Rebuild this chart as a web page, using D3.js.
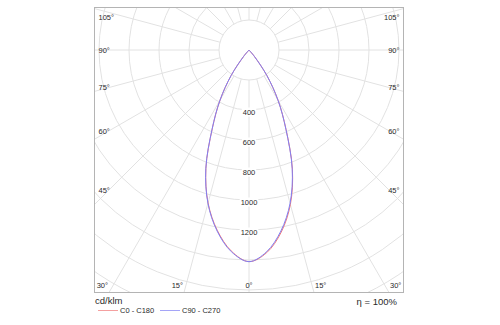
<!DOCTYPE html>
<html>
<head>
<meta charset="utf-8">
<script src="https://cdn.jsdelivr.net/npm/d3@7"></script>
<style>
  html, body { margin: 0; padding: 0; background: #fff; }
  text { font-family: "Liberation Sans", Arial, sans-serif; fill: #2a2a2a; }
</style>
</head>
<body>
<svg id="chart" width="500" height="325"></svg>
<script>
// ---- data ----
const gammaAngles = [0, 5, 10, 15, 20, 25, 30, 35, 40, 45, 50, 55, 60, 65, 70, 75, 80, 85, 90];
const c0   = [1411, 1356, 1234, 1066, 846, 584, 388, 208, 55, 0, 0, 0, 0, 0, 0, 0, 0, 0, 0];
const c180 = [1411, 1346, 1220, 1055, 840, 580, 386, 208, 55, 0, 0, 0, 0, 0, 0, 0, 0, 0, 0];
const c90  = [1411, 1350, 1225, 1058, 842, 582, 387, 208, 55, 0, 0, 0, 0, 0, 0, 0, 0, 0, 0];
const c270 = [1411, 1350, 1225, 1058, 842, 582, 387, 208, 55, 0, 0, 0, 0, 0, 0, 0, 0, 0, 0];
const gridValues = [200, 400, 600, 800, 1000, 1200, 1400, 1600, 1800, 2000];
const valueLabels = [400, 600, 800, 1000, 1200];
const spokeAngles = d3.range(0, 360, 15);
const angleLabels = [0, 15, 30, 45, 60, 75, 90, 105];
const seriesNames = ["C0 - C180", "C90 - C270"];
const unitLabel = "cd/klm";
const efficiencyLabel = "η = 100%";

// ---- layout ----
const frame = { x: 94.5, y: 7.5, w: 309, h: 285 };
const cx = 249, cy = 50;
const r = d3.scaleLinear().domain([0, 2000]).range([0, 300]);
const colors = ["#f07878", "#8080f4"];
const gridColor = "#e2e2e2";

const svg = d3.select("#chart");
svg.append("defs").append("clipPath").attr("id", "clip")
  .append("rect").attr("x", frame.x).attr("y", frame.y).attr("width", frame.w).attr("height", frame.h);

const g = svg.append("g").attr("clip-path", "url(#clip)");
const center = g.append("g").attr("transform", `translate(${cx},${cy})`);

// circles
center.selectAll("circle.grid").data(gridValues).enter().append("circle")
  .attr("class", "grid").attr("r", d => r(d))
  .attr("fill", "none").attr("stroke", gridColor).attr("stroke-width", 1);

// spokes (angle measured from straight down)
center.selectAll("line.spoke").data(spokeAngles).enter().append("line")
  .attr("class", "spoke")
  .attr("x1", d => -Math.sin(d * Math.PI / 180) * r(200))
  .attr("y1", d => Math.cos(d * Math.PI / 180) * r(200))
  .attr("x2", d => -Math.sin(d * Math.PI / 180) * r(2400))
  .attr("y2", d => Math.cos(d * Math.PI / 180) * r(2400))
  .attr("stroke", gridColor).attr("stroke-width", 1);

// value labels with white background
const vl = center.selectAll("g.vlabel").data(valueLabels).enter().append("g")
  .attr("class", "vlabel").attr("transform", d => `translate(0,${r(d) + 2})`);
vl.append("text").attr("text-anchor", "middle").attr("dominant-baseline", "central")
  .attr("font-size", 7.5).text(d => d);
vl.each(function() {
  const t = d3.select(this).select("text");
  const b = t.node().getBBox();
  d3.select(this).insert("rect", "text")
    .attr("x", b.x - 1).attr("y", b.y).attr("width", b.width + 2).attr("height", b.height)
    .attr("fill", "#fff");
});

// curves
const rad = Math.PI / 180;
function buildPoints(rightVals, leftVals) {
  const pts = [];
  for (let i = gammaAngles.length - 1; i >= 1; i--) pts.push([Math.PI + gammaAngles[i] * rad, r(leftVals[i])]);
  for (let i = 0; i < gammaAngles.length; i++) pts.push([Math.PI - gammaAngles[i] * rad, r(rightVals[i])]);
  return pts;
}
const lineGen = d3.lineRadial().angle(d => d[0]).radius(d => d[1]).curve(d3.curveCatmullRom.alpha(0.5));
const series = [buildPoints(c0, c180), buildPoints(c90, c270)];
center.selectAll("path.curve").data(series).enter().append("path")
  .attr("class", "curve").attr("d", lineGen)
  .attr("fill", "none").attr("stroke", (d, i) => colors[i]).attr("stroke-width", 1);

// frame
svg.append("rect").attr("x", frame.x).attr("y", frame.y).attr("width", frame.w).attr("height", frame.h)
  .attr("fill", "none").attr("stroke", "#b4b4b4").attr("stroke-width", 1);

// angle labels
const fLeft = frame.x, fRight = frame.x + frame.w, fTop = frame.y, fBottom = frame.y + frame.h;
const sideInset = 14, labelY = fBottom - 7;
angleLabels.forEach(a => {
  [-1, 1].forEach(side => {
    if (a === 0 && side === 1) return;
    const t = a * rad;
    const dx = Math.sin(t), dy = Math.cos(t);
    const tBottom = dy > 0 ? (fBottom - cy) / dy : Infinity;
    const tSide = dx > 0 ? (cx - fLeft) / dx : Infinity;
    let x, y, anchor;
    if (tBottom <= tSide) {
      x = cx + side * dx * tBottom;
      y = labelY;
      anchor = a === 0 ? "middle" : (side < 0 ? "end" : "start");
      if (a !== 0) x += side * 1;
    } else {
      const tIn = (cx - fLeft - sideInset) / dx;
      y = Math.max(cy + dy * tIn, fTop + 10);
      x = side < 0 ? fLeft + 4 : fRight - 4;
      anchor = side < 0 ? "start" : "end";
    }
    svg.append("text").attr("x", x).attr("y", y)
      .attr("text-anchor", anchor).attr("dominant-baseline", "central")
      .attr("font-size", 7.5).text(a + "°");
  });
});

// legend
svg.append("text").attr("x", 95).attr("y", 300).attr("dominant-baseline", "central")
  .attr("font-size", 9.5).text(unitLabel);
svg.append("text").attr("x", 397).attr("y", 301).attr("text-anchor", "end").attr("dominant-baseline", "central")
  .attr("font-size", 9.5).text(efficiencyLabel);
const legendX = [98, 160];
seriesNames.forEach((name, i) => {
  svg.append("line").attr("x1", legendX[i]).attr("x2", legendX[i] + 20)
    .attr("y1", 310.5).attr("y2", 310.5).attr("stroke", colors[i]).attr("stroke-width", 1).attr("opacity", 0.7);
  svg.append("text").attr("x", legendX[i] + 22).attr("y", 310.5).attr("dominant-baseline", "central")
    .attr("font-size", 7.5).text(name);
});
</script>
</body>
</html>
